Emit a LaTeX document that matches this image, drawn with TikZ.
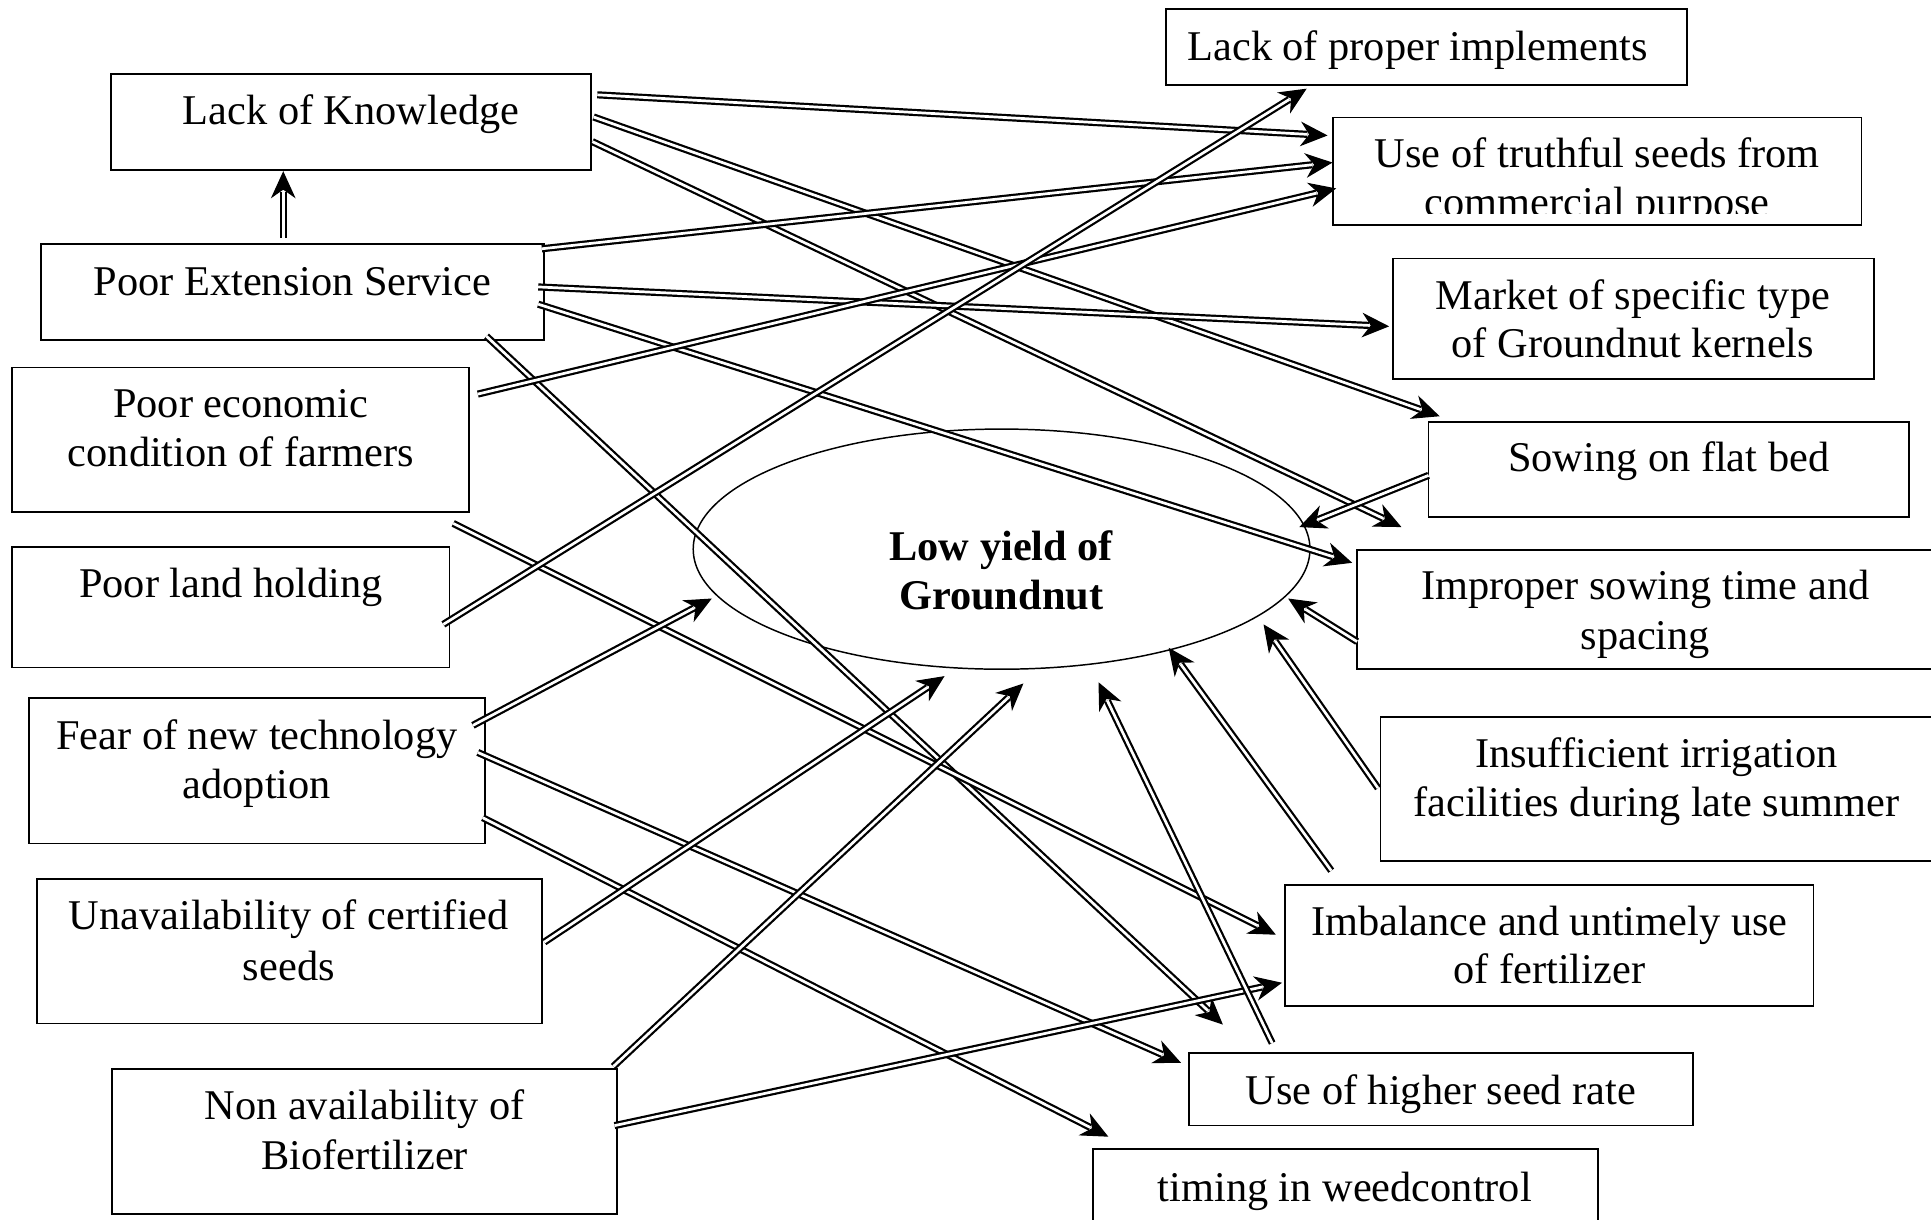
\documentclass[tikz,border=0pt]{standalone}
\usepackage{fontspec}
\setmainfont{Liberation Serif}
\usetikzlibrary{arrows.meta,shapes.geometric,fit,calc}
\begin{document}
\begin{tikzpicture}[x=1pt,y=-1pt,
  box/.style={draw, line width=1.4pt, inner sep=0pt, outer sep=0pt},
  lbl/.style={anchor=base, inner sep=0pt, font=\fontsize{34.4}{40}\selectfont},
  dbl/.style={double, double distance=2.2pt, line width=1.8pt, shorten >=16.5pt},
  tipsty/.style={line width=1pt, -{Stealth[length=22pt,width=20pt,inset=7pt]}},
]
\newcommand\conn[2]{%
  \draw[dbl] (#1) -- (#2);
  \draw[tipsty] ($(#2)!12pt!(#1)$) -- (#2);}
\useasboundingbox[fill=white] (0,0) rectangle (1568,990);

% ---------- boxes ----------
\node[box, fit={(90,60)(480,138)}] (lk) {};
\node[box, fit={(33,198)(442,276)}] (pes) {};
\node[box, fit={(10,298.5)(381,415.5)}] (eco) {};
\node[box, fit={(10,444)(365,542)}] (plh) {};
\node[box, fit={(23.5,567)(394,685)}] (fear) {};
\node[box, fit={(30,714)(440,831)}] (unav) {};
\node[box, fit={(91,868)(501,986)}] (bio) {};
\node[box, fit={(947,7.6)(1370,69)}] (imp) {};
\node[box, fit={(1082.5,95.3)(1511.6,182.7)}] (ts) {};
\node[box, fit={(1131,209.8)(1521.5,307.8)}] (mkt) {};
\node[box, fit={(1160,342.4)(1550,420)}] (flat) {};
\node[box, fit={(1102,446.6)(1572,543.4)}] (sow) {};
\node[box, fit={(1121,582.5)(1572,699)}] (irr) {};
\node[box, fit={(1043.5,718.7)(1472.6,816.6)}] (fert) {};
\node[box, fit={(965.3,854.8)(1374.8,914)}] (rate) {};
\node[box, fit={(887.7,933)(1297.6,1000)}] (weed) {};
\node[draw, ellipse, line width=1.2pt, minimum width=500.8pt, minimum height=195pt, inner sep=0pt] (ell) at (813.3,445.9) {};

% ---------- texts ----------
\node[lbl] (lk-t) at (285,101) {Lack of Knowledge};
\node[lbl] (pes-t) at (237.5,240) {Poor Extension Service};
\node[lbl] (eco-t1) at (195.5,339) {Poor economic};
\node[lbl] (eco-t2) at (195.5,379) {condition of farmers};
\node[lbl] (plh-t) at (187.5,485) {Poor land holding};
\node[lbl] (fear-t1) at (208.5,609) {Fear of new technology};
\node[lbl] (fear-t2) at (208.5,648) {adoption};
\node[lbl] (unav-t1) at (234.5,755) {Unavailability of certified};
\node[lbl] (unav-t2) at (234.5,796) {seeds};
\node[lbl] (bio-t1) at (296,909) {Non availability of};
\node[lbl] (bio-t2) at (296,950) {Biofertilizer};
\node[lbl] (imp-t) at (1151,49) {Lack of proper implements};
\node[lbl] (ts-t1) at (1297,136) {Use of truthful seeds from};
\begin{scope}
  \clip (1082.5,95.3) rectangle (1511.6,173);
  \node[lbl] (ts-t2) at (1297,176) {commercial purpose};
\end{scope}
\node[lbl] (mkt-t1) at (1326,251) {Market of specific type};
\node[lbl] (mkt-t2) at (1326,290) {of Groundnut kernels};
\node[lbl] (flat-t) at (1355,383) {Sowing on flat bed};
\node[lbl] (sow-t1) at (1336,487) {Improper sowing time and};
\node[lbl] (sow-t2) at (1336,527) {spacing};
\node[lbl] (irr-t1) at (1345,623) {Insufficient irrigation};
\node[lbl] (irr-t2) at (1345,663) {facilities during late summer};
\node[lbl] (fert-t1) at (1258,760) {Imbalance and untimely use};
\node[lbl] (fert-t2) at (1258,799) {of fertilizer};
\node[lbl] (rate-t) at (1170,897) {Use of higher seed rate};
\node[lbl] (weed-t) at (1092,976) {timing in weedcontrol};
\node[lbl, font=\fontsize{34.4}{40}\selectfont\bfseries] (ell-t1) at (813,455) {Low yield of};
\node[lbl, font=\fontsize{34.4}{40}\selectfont\bfseries] (ell-t2) at (813,495) {Groundnut};

% ---------- connector end points ----------
\coordinate (pesUp) at (230,193);   \coordinate (lkIn) at (230,139);
\coordinate (lkA) at (485,77);      \coordinate (tsA) at (1078,110);
\coordinate (lkB) at (482,95);      \coordinate (flatB) at (1169,338);
\coordinate (lkC) at (481,115);     \coordinate (freeC) at (1138,428);
\coordinate (pesD) at (440,202);    \coordinate (tsD) at (1082,132);
\coordinate (pesE) at (437,233);    \coordinate (mktE) at (1128,265);
\coordinate (pesF) at (437,247);    \coordinate (sowF) at (1098,457);
\coordinate (pesG) at (395,273);    \coordinate (rateG) at (993,832);
\coordinate (ecoH) at (388,320);    \coordinate (tsH) at (1085,153);
\coordinate (ecoI) at (368,425);    \coordinate (fertI) at (1036,759);
\coordinate (plhJ) at (360,507);    \coordinate (impJ) at (1061,72);
\coordinate (fearK) at (384,589);   \coordinate (ellK) at (578,486);
\coordinate (fearL) at (388,611);   \coordinate (rateL) at (959,863);
\coordinate (fearM) at (392,664);   \coordinate (weedM) at (900,923);
\coordinate (unavN) at (442,765);   \coordinate (ellN) at (767,549);
\coordinate (bioO) at (498,866);    \coordinate (ellO) at (831,555);
\coordinate (bioP) at (499,914);    \coordinate (fertP) at (1041,798);
\coordinate (flatQ) at (1160,386);  \coordinate (ellQ) at (1055,428);
\coordinate (sowR) at (1102,521);   \coordinate (ellR) at (1046,486);
\coordinate (irrS) at (1119,640);   \coordinate (ellS) at (1026,507);
\coordinate (fertT) at (1081,707);  \coordinate (ellT) at (949,526);
\coordinate (rateU) at (1033,847);  \coordinate (ellU) at (892,554);

% ---------- connectors ----------
\conn{pesUp}{lkIn}
\conn{lkA}{tsA}
\conn{lkB}{flatB}
\conn{lkC}{freeC}
\conn{pesD}{tsD}
\conn{pesE}{mktE}
\conn{pesF}{sowF}
\conn{pesG}{rateG}
\conn{ecoH}{tsH}
\conn{ecoI}{fertI}
\conn{plhJ}{impJ}
\conn{fearK}{ellK}
\conn{fearL}{rateL}
\conn{fearM}{weedM}
\conn{unavN}{ellN}
\conn{bioO}{ellO}
\conn{bioP}{fertP}
\conn{flatQ}{ellQ}
\conn{sowR}{ellR}
\conn{irrS}{ellS}
\conn{fertT}{ellT}
\conn{rateU}{ellU}
\end{tikzpicture}
\end{document}
